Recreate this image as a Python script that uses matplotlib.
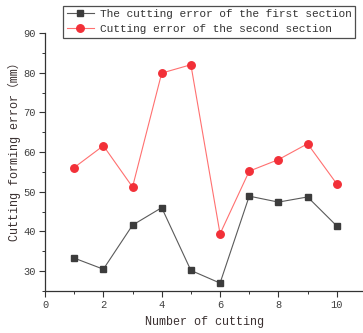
import matplotlib
matplotlib.use("Agg")
import matplotlib.pyplot as plt
from matplotlib.ticker import MultipleLocator

# values
cuts = [1, 2, 3, 4, 5, 6, 7, 8, 9, 10]
first_section = [33.3, 30.5, 41.6, 46.0, 30.2, 27.0, 48.9, 47.4, 48.7, 41.4]
second_section = [56.1, 61.6, 51.2, 79.9, 82.0, 39.4, 55.2, 58.1, 62.1, 52.0]

plt.rcParams["font.family"] = ["Liberation Mono", "Noto Sans CJK SC", "DejaVu Sans Mono"]

fig = plt.figure(figsize=(3.63, 3.33), dpi=100)
ax = fig.add_axes([0.124, 0.126, 0.876, 0.775])

ax.plot(cuts, first_section, color="#5a5a5a", lw=0.8, marker="s", ms=5,
        mfc="#3c3c3c", mec="#3c3c3c", label="The cutting error of the first section")
ax.plot(cuts, second_section, color="#ff7070", lw=0.8, marker="o", ms=5.4,
        mfc="#f23038", mec="#f23038", label="Cutting error of the second section")

ax.set_xlim(0, 10.9)
ax.set_ylim(25, 90)
ax.xaxis.set_major_locator(MultipleLocator(2))
ax.xaxis.set_minor_locator(MultipleLocator(1))
ax.yaxis.set_major_locator(MultipleLocator(10))
ax.yaxis.set_minor_locator(MultipleLocator(5))

for side in ["top", "right"]:
    ax.spines[side].set_visible(False)
for side in ["left", "bottom"]:
    ax.spines[side].set_color("#333333")
    ax.spines[side].set_linewidth(0.9)

ax.tick_params(which="major", direction="out", length=4, width=0.8, pad=2.5,
               colors="#333333", labelsize=7.5, labelcolor="#404040")
ax.tick_params(which="minor", direction="out", length=2, width=0.7, colors="#333333")

ax.set_xlabel("Number of cutting", fontsize=8.5, color="#3a3030", labelpad=4)
# y label placed by hand, it sits a bit above the axes centre in the original
fig.text(14 / 363, 1 - 149 / 333, "Cutting forming error（mm）", rotation=90,
         ha="center", va="center", fontsize=8.5, color="#3a3030")

leg = ax.legend(loc="upper right", bbox_to_anchor=(0.978, 0.982),
                bbox_transform=fig.transFigure, borderaxespad=0,
                fontsize=8, frameon=True, fancybox=False, handlelength=2.5,
                handletextpad=0.5, labelspacing=0.45, borderpad=0.3)
leg.get_frame().set_edgecolor("#222222")
leg.get_frame().set_linewidth(0.9)
for t in leg.get_texts():
    t.set_color("#333333")

fig.savefig("out.png", dpi=100)
